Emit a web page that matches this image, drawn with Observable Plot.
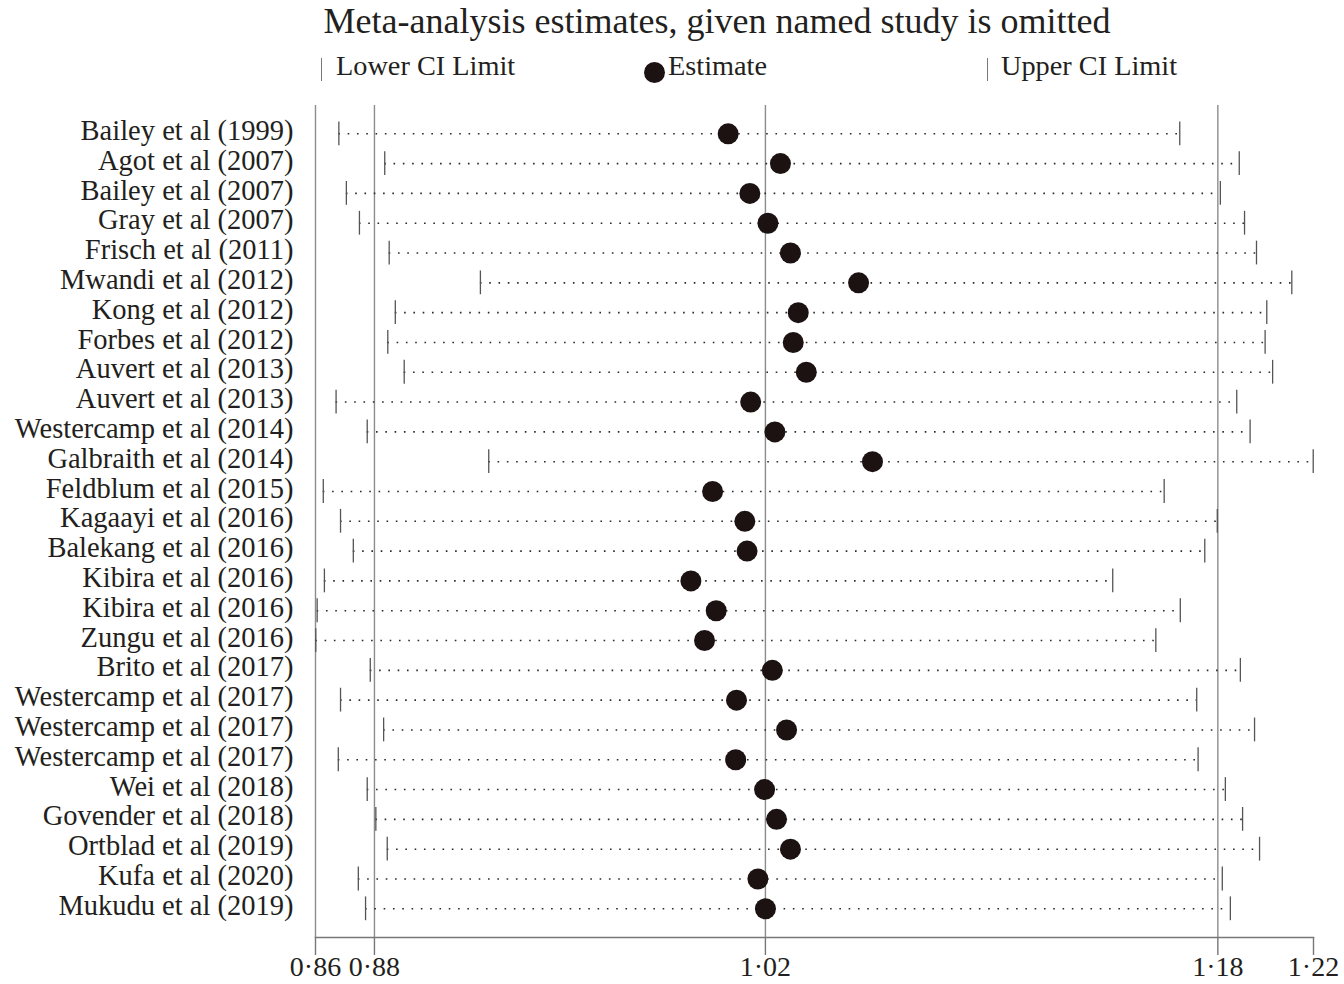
<!DOCTYPE html>
<html>
<head>
<meta charset="utf-8">
<script src="https://cdn.jsdelivr.net/npm/d3@7"></script>
<script src="https://cdn.jsdelivr.net/npm/@observablehq/plot@0.6"></script>
<style>
  body { margin: 0; background: #fff; font-family: "Liberation Serif", "Times New Roman", serif; color: #231f20; }
  #wrap { position: relative; width: 1344px; height: 984px; overflow: hidden; }
  #header { position: relative; width: 1344px; height: 90px; }
  .t { position: absolute; white-space: nowrap; line-height: 1; }
  .title { font-size: 36px; top: 3px; left: 717px; transform: translateX(-50%); }
  .leg { font-size: 28.3px; top: 52px; }
  .bar { position: absolute; top: 58px; width: 0; height: 23px; border-left: 1.3px solid #777; }
  .ldot { position: absolute; width: 21px; height: 21px; border-radius: 50%; background: #1c1212; left: 644px; top: 62px; }
  #chart svg { display: block; }
</style>
</head>
<body>
<div id="wrap">
  <div id="header">
    <div class="t title">Meta-analysis estimates, given named study is omitted</div>
    <div class="bar" style="left:321px"></div>
    <div class="t leg" style="left:336px">Lower CI Limit</div>
    <div class="ldot"></div>
    <div class="t leg" style="left:668px">Estimate</div>
    <div class="bar" style="left:987px"></div>
    <div class="t leg" style="left:1001px">Upper CI Limit</div>
  </div>
  <div id="chart"></div>
</div>
<script>
const studies = [
  "Bailey et al (1999)", "Agot et al (2007)", "Bailey et al (2007)", "Gray et al (2007)",
  "Frisch et al (2011)", "Mwandi et al (2012)", "Kong et al (2012)", "Forbes et al (2012)",
  "Auvert et al (2013)", "Auvert et al (2013)", "Westercamp et al (2014)", "Galbraith et al (2014)",
  "Feldblum et al (2015)", "Kagaayi et al (2016)", "Balekang et al (2016)", "Kibira et al (2016)",
  "Kibira et al (2016)", "Zungu et al (2016)", "Brito et al (2017)", "Westercamp et al (2017)",
  "Westercamp et al (2017)", "Westercamp et al (2017)", "Wei et al (2018)", "Govender et al (2018)",
  "Ortblad et al (2019)", "Kufa et al (2020)", "Mukudu et al (2019)"
];
const lowerCI = [
  0.8679, 0.8844, 0.8706, 0.8753, 0.8860, 0.9188, 0.8882, 0.8855, 0.8914,
  0.8669, 0.8781, 0.9218, 0.8623, 0.8685, 0.8731, 0.8627, 0.8601, 0.8596,
  0.8792, 0.8685, 0.8840, 0.8677, 0.8781, 0.8812, 0.8853, 0.8749, 0.8775
];
const estimate = [
  1.0079, 1.0267, 1.0157, 1.0222, 1.0303, 1.0548, 1.0331, 1.0313, 1.0360,
  1.0160, 1.0247, 1.0598, 1.0023, 1.0139, 1.0147, 0.9945, 1.0036, 0.9994,
  1.0238, 1.0109, 1.0289, 1.0106, 1.0210, 1.0253, 1.0303, 1.0186, 1.0213
];
const upperCI = [
  1.1703, 1.1917, 1.1849, 1.1936, 1.1979, 1.2106, 1.2016, 1.2010, 1.2037,
  1.1908, 1.1956, 1.2183, 1.1647, 1.1838, 1.1793, 1.1462, 1.1705, 1.1617,
  1.1921, 1.1764, 1.1972, 1.1769, 1.1867, 1.1929, 1.1990, 1.1856, 1.1885
];
// overall pooled lower CI, estimate, upper CI
const overallLines = [0.8807, 1.0213, 1.1840];
const axisTicks = [0.8595, 0.8807, 1.0213, 1.1840, 1.2184];
const axisTickLabels = ["0·86", "0·88", "1·02", "1·18", "1·22"];

const rows = studies.map((s, i) => ({i, study: s, lo: lowerCI[i], est: estimate[i], hi: upperCI[i]}));
const labelOf = new Map(axisTicks.map((v, i) => [v, axisTickLabels[i]]));
const serif = '"Liberation Serif", "Times New Roman", serif';

const plot = Plot.plot({
  width: 1344,
  height: 894,
  marginLeft: 315,
  marginRight: 31,
  marginTop: 15,
  marginBottom: 47,
  style: {fontFamily: serif, fontSize: "28px", color: "#231f20", background: "#fff", overflow: "visible"},
  x: {domain: [axisTicks[0], axisTicks[axisTicks.length - 1]], label: null},
  y: {type: "band", domain: rows.map(d => d.i), range: [28.4, 833.2], padding: 0, round: false, label: null},
  marks: [
    Plot.ruleX([axisTicks[0], ...overallLines], {stroke: "#8c8c8c", strokeWidth: 1.4}),
    Plot.ruleY(rows, {y: "i", x1: "lo", x2: "hi", stroke: "#2a2a2a", strokeWidth: 1.6, strokeDasharray: "1.6,7.7"}),
    Plot.tickX(rows, {x: "lo", y: "i", stroke: "#555", strokeWidth: 1.3, insetTop: 3, insetBottom: 3}),
    Plot.tickX(rows, {x: "hi", y: "i", stroke: "#555", strokeWidth: 1.3, insetTop: 3, insetBottom: 3}),
    Plot.dot(rows, {x: "est", y: "i", r: 10.5, fill: "#1c1212", stroke: "none"}),
    Plot.frame({anchor: "bottom", stroke: "#777", strokeWidth: 1.5}),
    Plot.axisX({ticks: axisTicks, tickFormat: d => labelOf.get(d), tickSize: 18, tickPadding: 1, stroke: "#777", strokeWidth: 1.4, fontSize: 28, fill: "#231f20"}),
    Plot.axisY({tickSize: 0, tickPadding: 22, tickFormat: i => studies[i], dy: -3, fontSize: 28.5, fill: "#231f20"})
  ]
});
document.getElementById("chart").appendChild(plot);
</script>
</body>
</html>
